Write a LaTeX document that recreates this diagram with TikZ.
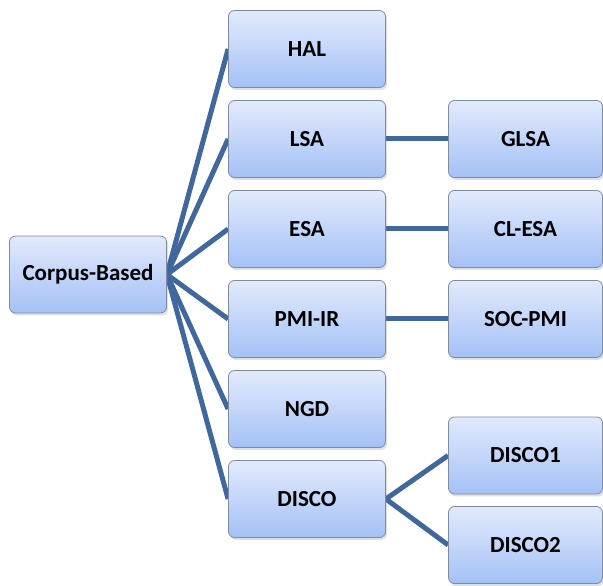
\documentclass[tikz,border=0pt]{standalone}
\usepackage{fontspec}
\setmainfont{Carlito}
\usetikzlibrary{shadows,backgrounds}
\definecolor{boxtop}{RGB}{226, 234, 252}
\definecolor{boxbot}{RGB}{164, 193, 246}
\definecolor{boxline}{RGB}{128, 140, 158}
\definecolor{linkblue}{RGB}{65, 104, 156}

\tikzset{
  catbox/.style={draw=boxline, line width=0.8pt, rounded corners=6pt,
    top color=boxtop, bottom color=boxbot, minimum width=157pt,
    minimum height=77pt, font=\fontsize{23}{26}\selectfont\bfseries,
    drop shadow={shadow xshift=1.5pt, shadow yshift=-2.5pt, opacity=0.25}},
  leafbox/.style={catbox, minimum width=154pt},
  link/.style={draw=linkblue, line width=5pt}
}

\begin{document}
\begin{tikzpicture}[x=1pt, y=1pt]
\useasboundingbox (0,0) rectangle (603,586);

% root
\node[catbox] (corpus) at (88,311.5) {Corpus-Based};

% first level
\node[catbox] (hal) at (307,537) {HAL};
\node[catbox] (lsa) at (307,447) {LSA};
\node[catbox] (esa) at (307,357) {ESA};
\node[catbox] (pmi) at (307,267) {PMI-IR};
\node[catbox] (ngd) at (307,177) {NGD};
\node[catbox] (disco) at (307,87) {DISCO};

% second level
\node[leafbox] (glsa) at (525.5,447) {GLSA};
\node[leafbox] (clesa) at (525.5,357) {CL-ESA};
\node[leafbox] (socpmi) at (525.5,267) {SOC-PMI};
\node[leafbox] (discoone) at (525.5,130.5) {DISCO1};
\node[leafbox] (discotwo) at (525.5,41) {DISCO2};

% connectors
\begin{scope}[on background layer]
\foreach \n in {hal,lsa,esa,pmi,ngd,disco}
  \draw[link] (corpus.east) -- (\n.west);
\draw[link] (lsa.east) -- (glsa.west);
\draw[link] (esa.east) -- (clesa.west);
\draw[link] (pmi.east) -- (socpmi.west);
\draw[link] (disco.east) -- (discoone.west);
\draw[link] (disco.east) -- (discotwo.west);
\end{scope}
\end{tikzpicture}
\end{document}
